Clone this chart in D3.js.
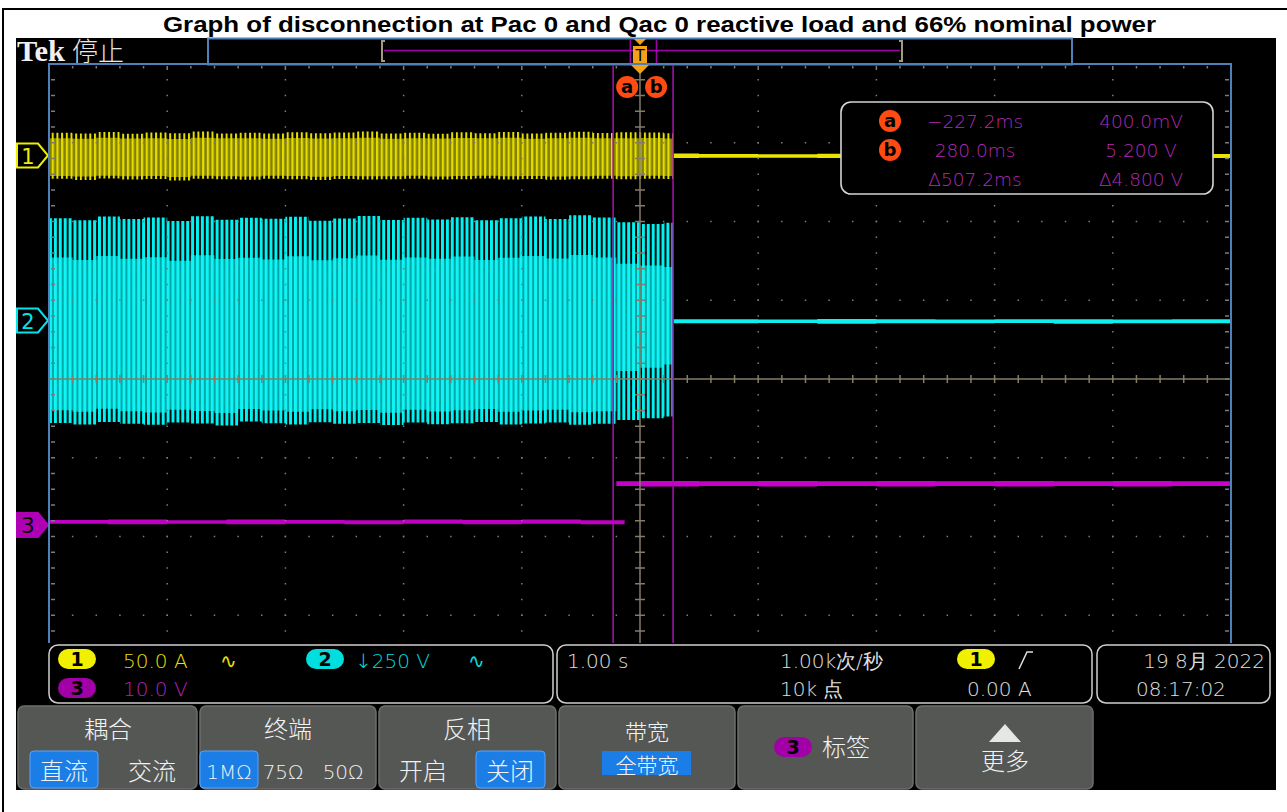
<!DOCTYPE html>
<html><head><meta charset="utf-8">
<script src="https://cdn.jsdelivr.net/npm/d3@7"></script>
<style>
body{margin:0;background:#fff;}
svg{display:block;}
</style></head><body>
<svg id="chart" width="1287" height="812"></svg>
<script>
// ---- Acquisition data (time in s, ch1 in A, ch2 in V, ch3 in V) ----
const envTime   = [-5,-4.8,-4.6,-4.4,-4.2,-4,-3.8,-3.6,-3.4,-3.2,-3,-2.8,-2.6,-2.4,-2.2,-2,-1.8,-1.6,-1.4,-1.2,-1,-0.8,-0.6,-0.4,-0.2,0,0.2,0.28];
const ch1PeakHi = [14.5,14.0,15.0,13.8,14.6,14.2,15.2,14.0,14.4,13.9,14.8,14.1,14.6,15.3,14.0,14.5,13.8,14.7,14.2,14.9,14.0,14.4,15.1,14.3,14.8,14.6,14.2,14.2];
const ch1PeakLo = [-14.8,-15.5,-14.6,-15.2,-14.9,-15.8,-14.7,-15.1,-15.4,-14.8,-15.0,-15.6,-14.9,-15.2,-15.0,-14.7,-15.3,-15.0,-14.6,-15.2,-14.9,-15.4,-15.0,-14.8,-15.1,-14.7,-14.9,-14.9];
const ch1BandHi = [11.0,10.6,11.2,10.8,11.0,10.5,11.3,10.9,11.0,10.7,11.1,10.8,11.0,11.2,10.6,11.0,10.8,11.1,10.9,11.2,10.7,11.0,11.3,10.9,11.0,11.1,10.8,10.8];
const ch1BandLo = [-13.0,-13.4,-12.8,-13.2,-13.0,-13.6,-12.9,-13.1,-13.3,-12.9,-13.0,-13.5,-13.0,-13.2,-13.1,-12.8,-13.3,-13.0,-12.8,-13.2,-13.0,-13.4,-13.1,-12.9,-13.2,-12.8,-13.0,-13.0];
const ch2PeakHi = [325,318,330,322,327,316,331,320,326,323,329,317,324,332,319,326,321,328,318,325,330,322,334,327,312,306,310,310];
const ch2PeakLo = [-325,-330,-322,-328,-331,-324,-327,-333,-321,-326,-330,-323,-328,-325,-332,-324,-329,-326,-322,-330,-327,-324,-331,-328,-316,-310,-305,-305];
const ch2BandHi = [200,192,205,196,201,190,207,195,199,194,204,191,198,206,193,200,196,203,192,199,205,197,208,200,180,175,170,170];
const ch2BandLo = [-285,-290,-280,-288,-292,-283,-287,-294,-281,-286,-290,-282,-288,-284,-293,-283,-289,-285,-281,-290,-286,-283,-291,-288,-160,-150,-140,-140];

const postTime  = [0.28,0.5,1,1.5,2,2.5,3,3.5,4,4.5,5];
const ch1RestHi = [1.2,1.0,0.8,1.1,0.9,0.8,1.0,0.9,0.8,1.0,0.9];
const ch1RestLo = [-1.6,-1.5,-1.4,-1.6,-1.5,-1.6,-1.4,-1.6,-1.5,-1.6,-1.5];
const ch2RestHi = [4,4,3,5,4,3,4,4,3,4,4];
const ch2RestLo = [-9,-9,-8,-10,-9,-9,-8,-10,-9,-9,-9];

const ch3PreTime  = [-5,-4.5,-4,-3.5,-3,-2.5,-2,-1.5,-1,-0.5,-0.13];
const ch3PreHi    = [0.65,0.7,0.6,0.7,0.65,0.6,0.7,0.65,0.7,0.6,0.6];
const ch3PreLo    = [0.15,0.1,0.15,0.1,0.15,0.1,0.15,0.1,0.15,0.1,0.15];
const ch3PostTime = [-0.2,0,0.5,1,1.5,2,2.5,3,3.5,4,4.5,5];
const ch3PostHi   = [5.55,5.6,5.55,5.6,5.55,5.6,5.55,5.6,5.55,5.6,5.55,5.55];
const ch3PostLo   = [4.95,4.9,4.95,4.9,4.95,4.9,4.95,4.9,4.95,4.9,4.95,4.95];

// cursor readout
const cursorTimes = [-0.2272, 0.280];
const readoutTime = ["\u2212227.2ms","280.0ms","\u0394507.2ms"];
const readoutVolt = ["400.0mV","5.200 V","\u03944.800 V"];

// ---- Layout ----
const svg = d3.select("#chart");
const W = 1287, H = 812;
const plot = {x0:49, x1:1231, y0:64, yBottom:694, yVis:643};
const divY = (plot.yBottom-plot.y0)/8;

const x = d3.scaleLinear().domain([-5,5]).range([plot.x0, plot.x1]);
const gx = d3.scaleLinear().domain([0,10]).range([plot.x0, plot.x1]);
const gy = d3.scaleLinear().domain([0,8]).range([plot.y0, plot.yBottom]);
// per-channel vertical scales: ground marker position and units/div
const chScale = (ground, perDiv) => d3.scaleLinear().domain([-4*perDiv, 4*perDiv]).range([ground+4*divY, ground-4*divY]);
const y1 = chScale(155.5, 50), y2 = chScale(320.5, 250), y3 = chScale(525, 10);

const SCOPE_FONT = "'DejaVu Sans', 'Liberation Sans', sans-serif";
const CJK_FONT = "'Noto Sans CJK SC', 'DejaVu Sans', sans-serif";

// frame + title
svg.append("rect").attr("width",W).attr("height",H).attr("fill","#fff");
svg.append("line").attr("x1",2).attr("x2",W).attr("y1",9).attr("y2",9).attr("stroke","#000").attr("stroke-width",2);
svg.append("line").attr("x1",3).attr("x2",3).attr("y1",8).attr("y2",H).attr("stroke","#000").attr("stroke-width",2);
svg.append("text").attr("x",163).attr("y",32)
  .attr("textLength",993).attr("lengthAdjust","spacingAndGlyphs")
  .attr("font-family","'Liberation Sans', Arial, sans-serif").attr("font-weight","bold").attr("font-size",22)
  .text("Graph of disconnection at Pac 0 and Qac 0 reactive load and 66% nominal power");

// scope screen
svg.append("rect").attr("x",16).attr("y",38).attr("width",1260).attr("height",752).attr("fill","#000");

// header
svg.append("text").attr("x",17).attr("y",61).attr("fill","#f0f0f0").attr("font-family","'Liberation Serif', 'DejaVu Serif', serif")
  .attr("font-weight","bold").attr("font-size",29).attr("textLength",48).attr("lengthAdjust","spacingAndGlyphs").text("Tek");
svg.append("text").attr("x",72).attr("y",61).attr("fill","#e8e8e8").attr("font-family",CJK_FONT).attr("font-weight",300)
  .attr("font-size",26).text("停止");

// record view
const rv = d3.scaleLinear().domain([-5,5]).range([384, 900]);
svg.append("rect").attr("x",208).attr("y",38.5).attr("width",864).attr("height",26).attr("fill","#000").attr("stroke","#4f80b8").attr("stroke-width",2);
svg.append("line").attr("x1",rv(-5)).attr("x2",rv(5)).attr("y1",50.5).attr("y2",50.5).attr("stroke","#a000a8").attr("stroke-width",1.6);
[[rv(-5)-2,1],[rv(5)+2,-1]].forEach(([bx,d])=>{
  svg.append("path").attr("d",`M${bx+3*d},41 H${bx} V61 H${bx+3*d}`).attr("fill","none").attr("stroke","#a49a80").attr("stroke-width",2);
});
cursorTimes.forEach(t=>{
  svg.append("line").attr("x1",rv(t)).attr("x2",rv(t)).attr("y1",39).attr("y2",63).attr("stroke","#a000a8").attr("stroke-width",1.5);
});

// ---- waveforms ----
const defs = svg.append("defs");
defs.append("clipPath").attr("id","plotClip").append("rect")
  .attr("x",plot.x0).attr("y",plot.y0).attr("width",plot.x1-plot.x0).attr("height",plot.yVis-plot.y0);
function stripes(id, bg, fg, period, w){
  const p = defs.append("pattern").attr("id",id).attr("patternUnits","userSpaceOnUse").attr("width",period).attr("height",8);
  if (bg) p.append("rect").attr("width",period).attr("height",8).attr("fill",bg);
  p.append("rect").attr("x",0).attr("width",w).attr("height",8).attr("fill",fg);
}
stripes("ch1Out", null, "#e6e000", 4.7, 2);
stripes("ch1In", "#858000", "#e4de00", 4.7, 2.2);
stripes("ch2Out", null, "#00f2f2", 4.9, 3);
stripes("ch2In", "#00a6a8", "#10f4f4", 4.9, 3);

const wave = svg.append("g").attr("clip-path","url(#plotClip)");
function band(times, hi, lo, ys, fill){
  const data = times.map((t,i)=>({t, hi:hi[i], lo:lo[i]}));
  const area = d3.area().curve(d3.curveStepAfter).x(d=>x(d.t)).y0(d=>ys(d.lo)).y1(d=>ys(d.hi));
  wave.append("path").datum(data).attr("d",area).attr("fill",fill);
}
// channel 2 (line voltage)
band(envTime, ch2PeakHi, ch2PeakLo, y2, "url(#ch2Out)");
band(envTime, ch2BandHi, ch2BandLo, y2, "url(#ch2In)");
band(postTime, ch2RestHi, ch2RestLo, y2, "#10eeee");
// channel 1 (output current)
band(envTime, ch1PeakHi, ch1PeakLo, y1, "url(#ch1Out)");
band(envTime, ch1BandHi, ch1BandLo, y1, "url(#ch1In)");
band(postTime, ch1RestHi, ch1RestLo, y1, "#e8e400");
// channel 3 (relay signal)
band(ch3PreTime, ch3PreHi, ch3PreLo, y3, "#c000c4");
band(ch3PostTime, ch3PostHi, ch3PostLo, y3, "#c800cc");

// ---- graticule (drawn over the traces) ----
const grid = svg.append("g");
const dotCol = "#7c7c7c";
const minorX = d3.range(0,10.0001,0.2), minorY = d3.range(0,8.0001,0.2);
for (let k=1;k<10;k++){ if(k===5) continue;
  minorY.forEach(j=>{ const yy=gy(j); if(yy>plot.y0+2 && yy<plot.yVis)
    grid.append("rect").attr("x",gx(k)-0.75).attr("y",yy-0.75).attr("width",1.5).attr("height",1.5).attr("fill",dotCol);});
}
for (let j=1;j<8;j++){ if(j===4) continue;
  minorX.forEach(i=>{ const xx=gx(i); if(gy(j)<plot.yVis)
    grid.append("rect").attr("x",xx-0.75).attr("y",gy(j)-0.75).attr("width",1.5).attr("height",1.5).attr("fill",dotCol);});
}
minorX.forEach(i=>{
  grid.append("rect").attr("x",gx(i)-0.75).attr("y",plot.y0+2).attr("width",1.5).attr("height",Math.abs(i-Math.round(i))<1e-6?4:2.5).attr("fill",dotCol);
});
minorY.forEach(j=>{ const yy=gy(j); if(yy>plot.y0+2 && yy<plot.yVis){
  grid.append("rect").attr("x",plot.x0+2).attr("y",yy-0.75).attr("width",4).attr("height",1.5).attr("fill",dotCol);
  grid.append("rect").attr("x",plot.x1-6).attr("y",yy-0.75).attr("width",4).attr("height",1.5).attr("fill",dotCol);
}});
const cx = gx(5), cy = gy(4);
grid.append("line").attr("x1",plot.x0).attr("x2",plot.x1).attr("y1",cy).attr("y2",cy).attr("stroke","#857c68").attr("stroke-width",1.5);
grid.append("line").attr("x1",cx).attr("x2",cx).attr("y1",plot.y0).attr("y2",plot.yVis).attr("stroke","#857c68").attr("stroke-width",1.5);
minorX.forEach(i=>{ grid.append("rect").attr("x",gx(i)-0.75).attr("y",cy-4).attr("width",1.5).attr("height",8).attr("fill","#857c68"); });
minorY.forEach(j=>{ const yy=gy(j); if(yy>plot.y0+2 && yy<plot.yVis)
  grid.append("rect").attr("x",cx-5).attr("y",yy-0.75).attr("width",10).attr("height",1.5).attr("fill","#857c68"); });

// ---- cursors ----
cursorTimes.forEach(t=>{
  svg.append("line").attr("x1",x(t)).attr("x2",x(t)).attr("y1",plot.y0).attr("y2",plot.yVis)
    .attr("stroke","#a010a8").attr("stroke-width",1.6);
});
function cursorBadge(cxp, cyp, label){
  svg.append("circle").attr("cx",cxp).attr("cy",cyp).attr("r",11).attr("fill","#ff4a12");
  svg.append("text").attr("x",cxp).attr("y",cyp+6).attr("text-anchor","middle").attr("font-family",SCOPE_FONT)
    .attr("font-weight","bold").attr("font-size",18).attr("fill","#000").text(label);
}
cursorBadge(x(cursorTimes[0])+14, 87, "a");
cursorBadge(x(cursorTimes[1])-17, 87, "b");

// trigger marker
const trig = svg.append("g").attr("fill","#f2a218");
trig.append("path").attr("d",`M${cx-6},39 H${cx+6} L${cx},45 Z`);
trig.append("rect").attr("x",cx-7).attr("y",46).attr("width",14).attr("height",17);
trig.append("text").attr("x",cx).attr("y",61).attr("text-anchor","middle").attr("font-family",SCOPE_FONT)
  .attr("font-size",15).attr("fill","#000").text("T");
trig.append("path").attr("d",`M${cx-9},65 H${cx+9} L${cx},74 Z`);

// ---- cursor readout ----
svg.append("rect").attr("x",841).attr("y",102).attr("width",372).attr("height",92).attr("rx",10)
  .attr("fill","#000").attr("stroke","#d4d4d4").attr("stroke-width",1.6);
cursorBadge(890,121,"a"); cursorBadge(890,150,"b");
const rowY = [128,157,186];
readoutTime.forEach((s,i)=>svg.append("text").attr("x",975).attr("y",rowY[i]).attr("text-anchor","middle")
  .attr("font-family",SCOPE_FONT).attr("font-weight",300).attr("font-size",18.5).attr("fill","#b22ab8").text(s));
readoutVolt.forEach((s,i)=>svg.append("text").attr("x",1141).attr("y",rowY[i]).attr("text-anchor","middle")
  .attr("font-family",SCOPE_FONT).attr("font-weight",300).attr("font-size",18.5).attr("fill","#b22ab8").text(s));

// ---- channel ground markers ----
function marker(yc, col, label, filled){
  svg.append("path").attr("d",`M17,${yc-12} H38 L48,${yc} L38,${yc+12} H17 Z`)
    .attr("fill",filled?col:"#000").attr("stroke",col).attr("stroke-width",2);
  svg.append("text").attr("x",28).attr("y",yc+8).attr("text-anchor","middle").attr("font-family",SCOPE_FONT)
    .attr("font-size",21).attr("fill",filled?"#000":col).text(label);
}
marker(y1(0),"#eeee00","1",false);
marker(y2(0),"#00e6ea","2",false);
marker(y3(0),"#b000b4","3",true);

// graticule border
svg.append("path").attr("d",`M${plot.x0},${plot.yVis} V${plot.y0} H${plot.x1} V${plot.yVis}`)
  .attr("fill","none").attr("stroke","#4f80b8").attr("stroke-width",2);

// ---- info bar ----
svg.append("rect").attr("x",16).attr("y",643).attr("width",1260).attr("height",147).attr("fill","#000");
const boxes = [[49,504],[557,535],[1097,173]];
boxes.forEach(([bx,bw])=>svg.append("rect").attr("x",bx).attr("y",645).attr("width",bw).attr("height",58).attr("rx",9)
  .attr("fill","#000").attr("stroke","#cfcfcf").attr("stroke-width",1.5));
function pill(xc, yc, col, label){
  svg.append("rect").attr("x",xc-19).attr("y",yc-10).attr("width",38).attr("height",20).attr("rx",10).attr("fill",col);
  svg.append("text").attr("x",xc).attr("y",yc+7).attr("text-anchor","middle").attr("font-family",SCOPE_FONT)
    .attr("font-weight","bold").attr("font-size",19).attr("fill","#000").text(label);
}
function info(xp, yp, str, col, anchor){
  svg.append("text").attr("x",xp).attr("y",yp).attr("text-anchor",anchor||"start").attr("font-family",SCOPE_FONT)
    .attr("font-weight",300).attr("font-size",20).attr("fill",col).text(str);
}
pill(77,659,"#f0f000","1"); info(123,668,"50.0 A","#e6e000"); info(220,668,"\u223F","#e6e000");
pill(325,659,"#00dede","2"); info(355,668,"\u2193250 V","#00dede"); info(468,668,"\u223F","#00dede");
pill(77,688,"#a000a6","3"); info(123,696,"10.0 V","#b020b8");
info(567,668,"1.00 s","#e0e0e0");
info(780,668,"1.00k次/秒","#e0e0e0");
info(780,696,"10k 点","#e0e0e0");
pill(976,659,"#f0f000","1");
svg.append("path").attr("d","M1019,669 L1027,652 H1033").attr("fill","none").attr("stroke","#e0e0e0").attr("stroke-width",1.5);
info(967,696,"0.00 A","#e0e0e0");
info(1265,668,"19 8月 2022","#e0e0e0","end");
info(1136,696,"08:17:02","#e0e0e0");

// ---- soft-key menu ----
const btns = [[18,197],[200,376],[379,556],[559,735],[738,913],[916,1093]];
btns.forEach(([a,b])=>svg.append("rect").attr("x",a).attr("y",706).attr("width",b-a).attr("height",83).attr("rx",6)
  .attr("fill","#555755").attr("stroke","#6e6e6e").attr("stroke-width",1.5));
function cjk(xp, yp, str, size, anchor){
  svg.append("text").attr("x",xp).attr("y",yp).attr("text-anchor",anchor||"middle").attr("font-family",CJK_FONT)
    .attr("font-weight",300).attr("font-size",size||24).attr("fill","#f2f2f2").text(str);
}
function hilite(x0, x1, y0, y1){
  svg.append("rect").attr("x",x0).attr("y",y0).attr("width",x1-x0).attr("height",y1-y0).attr("rx",4)
    .attr("fill","#1b7de6").attr("stroke","#5aa4ff").attr("stroke-width",1);
}
cjk(108,738,"耦合");
hilite(30,98,751,788); cjk(64,780,"直流"); cjk(152,780,"交流");
cjk(288,738,"终端");
hilite(200,258,751,788);
info(229,779,"1M\u03A9","#f2f2f2","middle"); info(283,779,"75\u03A9","#f2f2f2","middle"); info(343,779,"50\u03A9","#f2f2f2","middle");
cjk(467,738,"反相");
cjk(423,780,"开启"); hilite(476,545,751,788); cjk(510,780,"关闭");
cjk(647,740,"带宽",22);
svg.append("rect").attr("x",602).attr("y",751).attr("width",89).attr("height",24).attr("fill","#1b7de6");
cjk(647,773,"全带宽",21);
pill(793,747,"#a000a6","3");
cjk(822,756,"标签",24,"start");
svg.append("path").attr("d","M1005,724 L1021,742 H989 Z").attr("fill","#e6e6e6");
cjk(1005,770,"更多");
</script>
</body></html>
